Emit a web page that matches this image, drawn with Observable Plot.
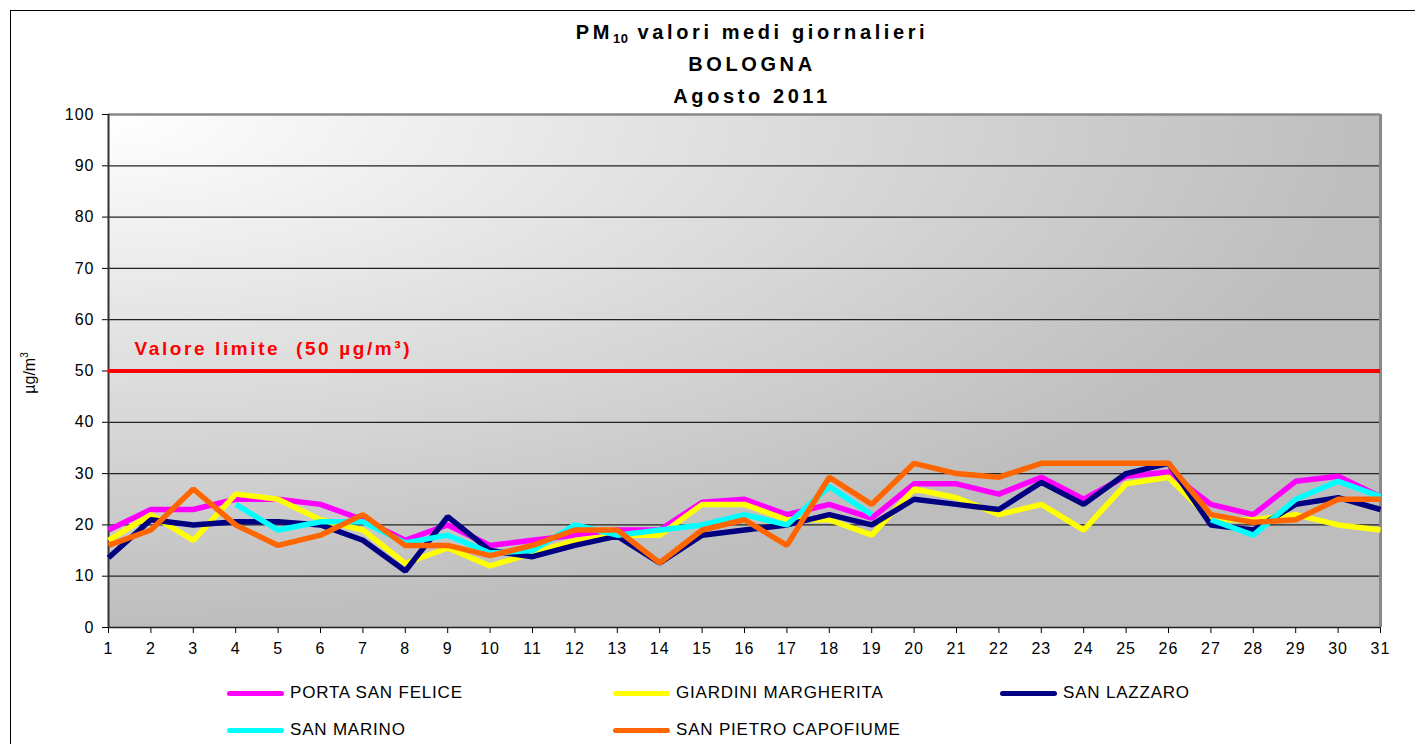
<!DOCTYPE html>
<html>
<head>
<meta charset="utf-8">
<script src="https://cdn.jsdelivr.net/npm/d3@7"></script>
<script src="https://cdn.jsdelivr.net/npm/@observablehq/plot@0.6"></script>
<style>
  body { margin: 0; background: #fff; font-family: "Liberation Sans", Arial, sans-serif; }
  #wrap { position: relative; width: 1415px; height: 744px; overflow: hidden; }
  #border { position: absolute; left: 10px; top: 10px; width: 1420px; height: 750px; border-left: 1.5px solid #000; border-top: 1.5px solid #000; pointer-events: none; }
  .title { position: absolute; left: 0; width: 1504px; text-align: center; font-weight: bold; font-size: 20px; letter-spacing: 3.6px; color: #000; }
  .title sub { font-size: 13px; vertical-align: -4px; letter-spacing: 0.5px; }
  #ylab { position: absolute; left: 29px; top: 373px; transform: translate(-50%, -50%) rotate(-90deg); font-size: 16px; white-space: nowrap; }
  #ylab sup { font-size: 10px; }
  .leg { position: absolute; font-size: 17px; letter-spacing: 0.8px; white-space: nowrap; display: flex; align-items: center; }
  .leg .sw { display: inline-block; width: 57px; height: 5px; border-radius: 3px; margin-right: 6px; }
  #chart { position: absolute; left: 0; top: 0; }
</style>
</head>
<body>
<div id="wrap">
  <div id="chart"></div>
  <div id="border"></div>
  <div id="t1" class="title" style="top:21px">PM<sub>10</sub> valori medi giornalieri</div>
  <div id="t2" class="title" style="top:53px">BOLOGNA</div>
  <div id="t3" class="title" style="top:85px">Agosto 2011</div>
  <div id="ylab">µg/m<sup>3</sup></div>
  <div id="legend"></div>
</div>
<script>
// ---- data ----
const days = [1,2,3,4,5,6,7,8,9,10,11,12,13,14,15,16,17,18,19,20,21,22,23,24,25,26,27,28,29,30,31];
const yTicks = [0,10,20,30,40,50,60,70,80,90,100];
const stations = ["PORTA SAN FELICE", "GIARDINI MARGHERITA", "SAN LAZZARO", "SAN MARINO", "SAN PIETRO CAPOFIUME"];
const stationColors = ["#ff00ff", "#ffff00", "#000080", "#00ffff", "#ff6600"];
const portaSanFelice = [19,23,23,25,25,24,21,17,20,16,17,18,19,19,24.4,25,22,24,21.3,28,28,26,29.3,25,29.5,30.3,24,22,28.5,29.5,25.5];
const giardiniMargherita = [17,22,17,26,25,21,19,12.5,15.5,12,14.5,17,18,18,24,24,21,21,18,27,25.3,22,24,19,28,29.3,21,21,22,20,19];
const sanLazzaro = [13.6,21,20,20.6,20.6,20,17,11,21.6,15,13.8,16,17.8,12.6,18,19,20,22,20,25,24,23,28.3,24,30,32,20,19,24,25.3,23];
const sanMarino = [null,null,null,24,19,20.6,20.6,16.5,18,14.5,15,20,18,19,20,22,20,27.5,22,null,null,null,null,null,null,null,21,18,25,28.5,25.5];
const sanPietroCapofiume = [16,19,27,20,16,18,22,16,16,14,16,19,19,12.6,19,21,16,29.3,24,32,30,29.3,32,32,32,32,22,20.5,21,25,25];
const seriesValues = [portaSanFelice, giardiniMargherita, sanLazzaro, sanMarino, sanPietroCapofiume];
const limitValue = [50];
const limitLabel = ["Valore limite  (50 µg/m³)"];

// ---- table ----
const rows = [];
stations.forEach((s, i) => {
  days.forEach((d, j) => {
    const v = seriesValues[i][j];
    rows.push({station: s, day: d, value: v == null ? NaN : v});
  });
});

const chart = Plot.plot({
  width: 1415,
  height: 744,
  marginTop: 114,
  marginLeft: 108,
  marginRight: 35,
  marginBottom: 117,
  style: {fontFamily: "Liberation Sans, Arial, sans-serif", fontSize: "16px", background: "transparent", color: "#000", overflow: "visible"},
  x: {domain: [1, 31], ticks: days, tickFormat: d => String(d), label: null, tickSize: 6, tickPadding: 9},
  y: {domain: [0, 100], ticks: yTicks, label: null, tickSize: 6, tickPadding: 8},
  color: {domain: stations, range: stationColors},
  marks: [
    Plot.frame({fill: "url(#bgGrad)", stroke: null}),
    Plot.ruleY(yTicks.filter(t => t > 0 && t < 100), {stroke: "#222", strokeWidth: 1.3}),
    Plot.ruleY([100], {stroke: "#888", strokeWidth: 2.5}),
    Plot.ruleX([31], {stroke: "#888", strokeWidth: 3}),
    Plot.ruleY([0], {stroke: "#222", strokeWidth: 1.5}),
    Plot.ruleX([1], {stroke: "#333", strokeWidth: 2}),
    Plot.ruleY(limitValue, {x1: 1, x2: 31, stroke: "#ff0000", strokeWidth: 4}),
    Plot.text(limitLabel, {x: () => 1, y: () => limitValue[0], text: d => d, textAnchor: "start", dx: 26, dy: -22, fill: "#ff0000", fontWeight: "bold", fontSize: 19, className: "limitlab"}),
    Plot.line(rows, {x: "day", y: "value", z: "station", stroke: "station", strokeWidth: 5.5, strokeLinejoin: "miter", strokeLinecap: "butt"})
  ]
});

// gradient background
const svg = d3.select(chart);
const defs = svg.insert("defs", ":first-child");
const g = defs.append("radialGradient").attr("id", "bgGrad").attr("cx", 0).attr("cy", 0).attr("r", 1).attr("fx", 0).attr("fy", 0);
g.append("stop").attr("offset", "0").attr("stop-color", "#ffffff");
g.append("stop").attr("offset", "1").attr("stop-color", "#bdbdbd");
svg.selectAll("text").style("letter-spacing", "1px");
svg.selectAll(".limitlab text").style("letter-spacing", "2.6px");

document.getElementById("chart").appendChild(chart);

// legend
const legPos = [[227, 694], [613, 694], [1000, 694], [227, 731], [613, 731]];
const leg = document.getElementById("legend");
stations.forEach((s, i) => {
  const div = document.createElement("div");
  div.className = "leg";
  div.style.left = legPos[i][0] + "px";
  div.style.top = (legPos[i][1] - 11) + "px";
  const sw = document.createElement("span");
  sw.className = "sw";
  sw.style.background = stationColors[i];
  div.appendChild(sw);
  div.appendChild(document.createTextNode(s));
  leg.appendChild(div);
});
</script>
</body>
</html>
